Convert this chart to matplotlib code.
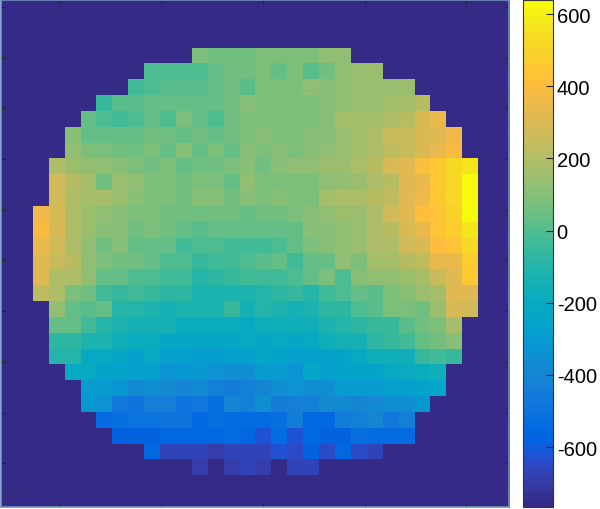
import numpy as np
import matplotlib
matplotlib.use('Agg')
import matplotlib.pyplot as plt
from matplotlib.colors import ListedColormap

plt.rcParams['font.family'] = ['Liberation Sans', 'DejaVu Sans']
plt.rcParams['axes.unicode_minus'] = False

# parula, 64 levels
parula = [
    [0.2081, 0.1663, 0.5292], [0.2116, 0.1898, 0.5777], [0.2123, 0.2138, 0.6270], [0.2081, 0.2386, 0.6771],
    [0.1959, 0.2645, 0.7279], [0.1707, 0.2919, 0.7792], [0.1253, 0.3242, 0.8303], [0.0591, 0.3598, 0.8683],
    [0.0117, 0.3875, 0.8820], [0.0060, 0.4086, 0.8828], [0.0165, 0.4266, 0.8786], [0.0329, 0.4430, 0.8720],
    [0.0498, 0.4586, 0.8641], [0.0629, 0.4737, 0.8554], [0.0723, 0.4887, 0.8467], [0.0779, 0.5040, 0.8384],
    [0.0793, 0.5200, 0.8312], [0.0749, 0.5375, 0.8263], [0.0641, 0.5570, 0.8240], [0.0488, 0.5772, 0.8228],
    [0.0343, 0.5966, 0.8199], [0.0265, 0.6137, 0.8135], [0.0239, 0.6287, 0.8038], [0.0231, 0.6418, 0.7913],
    [0.0228, 0.6535, 0.7768], [0.0267, 0.6642, 0.7607], [0.0384, 0.6743, 0.7436], [0.0590, 0.6838, 0.7254],
    [0.0843, 0.6928, 0.7062], [0.1133, 0.7015, 0.6859], [0.1453, 0.7098, 0.6646], [0.1801, 0.7177, 0.6424],
    [0.2178, 0.7250, 0.6193], [0.2586, 0.7317, 0.5954], [0.3022, 0.7376, 0.5712], [0.3482, 0.7424, 0.5473],
    [0.3953, 0.7459, 0.5244], [0.4420, 0.7481, 0.5033], [0.4871, 0.7491, 0.4840], [0.5300, 0.7491, 0.4661],
    [0.5709, 0.7485, 0.4494], [0.6099, 0.7473, 0.4337], [0.6473, 0.7456, 0.4188], [0.6834, 0.7435, 0.4044],
    [0.7184, 0.7411, 0.3905], [0.7525, 0.7384, 0.3768], [0.7858, 0.7356, 0.3633], [0.8185, 0.7327, 0.3498],
    [0.8507, 0.7299, 0.3360], [0.8824, 0.7274, 0.3217], [0.9139, 0.7258, 0.3063], [0.9450, 0.7261, 0.2886],
    [0.9739, 0.7314, 0.2666], [0.9938, 0.7455, 0.2403], [0.9990, 0.7653, 0.2164], [0.9955, 0.7861, 0.1967],
    [0.9880, 0.8066, 0.1794], [0.9789, 0.8271, 0.1633], [0.9697, 0.8481, 0.1475], [0.9626, 0.8705, 0.1309],
    [0.9589, 0.8949, 0.1132], [0.9598, 0.9218, 0.0948], [0.9661, 0.9514, 0.0755], [0.9763, 0.9831, 0.0538],
]

# map values, row by row from the top, and the column each row starts at
first_row = 3
first_col = [12, 9, 8, 6, 5, 4, 4, 3, 3, 3, 2, 2, 2, 2, 2, 2, 3, 3, 3, 3, 4, 5, 5, 6, 7, 9, 12]
rows = [
    [70, 60, 60, 60, 90, 70, 85, 85, 120, 120],
    [-10, 0, 0, -5, 40, 60, 60, 70, 45, 80, 20, 60, 120, 135, 135],
    [-40, 0, 15, 15, 15, 40, 65, 10, 70, 85, 85, 120, 100, 125, 135, 145, 155, 155],
    [-50, 15, 15, 30, 25, 45, 45, 45, 60, 100, 80, 80, 80, 85, 95, 120, 145, 155, 165, 175, 200],
    [30, 0, -20, -5, 40, -10, 70, 40, 0, 60, 80, 80, 75, 70, 85, 95, 170, 165, 175, 195, 215, 290, 340],
    [100, 40, 40, 40, 40, 50, 50, 40, 60, 25, 60, 80, 100, 90, 90, 100, 110, 135, 175, 180, 245, 250, 290, 320, 355],
    [120, 90, 80, 65, 55, 80, 45, 100, 35, 85, 45, 95, 85, 95, 70, 100, 130, 135, 175, 185, 235, 255, 305, 345, 390],
    [190, 140, 130, 115, 100, 90, 55, 90, 30, 65, 65, 80, 95, 55, 105, 120, 115, 135, 155, 190, 215, 295, 310, 410, 445, 510, 560],
    [270, 205, 160, 65, 135, 115, 90, 80, 55, 70, 85, 45, 125, 90, 75, 85, 85, 115, 120, 145, 185, 215, 320, 345, 460, 510, 640],
    [270, 195, 175, 165, 150, 110, 90, 75, 60, 100, 95, 65, 105, 75, 95, 90, 90, 170, 180, 190, 205, 235, 330, 355, 450, 520, 640],
    [370, 300, 185, 140, 120, 100, 75, 80, 60, 60, 60, 60, 60, 45, 60, 60, 70, 110, 115, 140, 145, 185, 270, 320, 410, 430, 500, 640],
    [380, 300, 190, 135, 100, 100, 65, 70, 50, 35, 10, 45, 45, 25, 35, 25, 45, 95, 105, 125, 135, 190, 215, 300, 340, 430, 470, 560],
    [340, 280, 190, 125, 60, 95, 45, 45, 25, -30, -5, -15, -30, -35, -30, -15, 30, 75, 95, 125, 150, 190, 190, 280, 300, 400, 430, 520],
    [330, 260, 220, 125, 70, 60, 60, 25, 0, -15, -60, -40, -35, -15, 15, 40, -20, 35, 40, 120, 90, 160, 170, 210, 240, 340, 350, 470],
    [310, 190, 185, 130, 40, 30, -5, -5, -20, -20, -90, -70, -50, -35, -40, -40, -5, 25, 70, -15, 110, 115, 130, 150, 170, 260, 330, 450],
    [240, 190, 70, 50, -20, -50, -25, -60, -80, -80, -110, -110, -115, -110, -100, -70, -50, -90, -20, -15, 25, 15, 80, 110, 150, 170, 310, 320],
    [125, 40, 20, 25, -90, -90, -110, -130, -115, -110, -110, -60, -150, -100, -120, -150, -110, -80, -70, -10, 5, 75, 80, 50, 140, 290, 280],
    [45, 35, -25, -90, -110, -135, -145, -140, -190, -195, -185, -175, -200, -165, -165, -165, -155, -110, -105, -80, -60, -50, 20, 60, 90, 160],
    [-65, -65, -110, -115, -160, -190, -185, -235, -225, -225, -220, -225, -215, -225, -215, -220, -205, -170, -150, -135, -70, -55, -25, 30, 60, 100],
    [-95, -95, -210, -205, -225, -280, -215, -265, -265, -300, -285, -270, -265, -235, -240, -270, -270, -245, -245, -210, -170, -160, -165, -50, -30, -45],
    [-200, -215, -240, -260, -280, -280, -330, -325, -310, -340, -365, -350, -300, -290, -345, -230, -270, -250, -240, -240, -205, -190, -180, -160],
    [-295, -285, -305, -375, -360, -385, -395, -390, -415, -455, -415, -400, -360, -335, -350, -350, -285, -300, -290, -275, -280, -250, -220],
    [-325, -340, -465, -490, -435, -435, -485, -475, -510, -400, -425, -350, -445, -430, -430, -375, -385, -400, -385, -370, -350, -320],
    [-525, -520, -500, -490, -500, -485, -560, -505, -530, -545, -535, -515, -440, -555, -555, -440, -425, -410, -475, -425],
    [-585, -590, -570, -560, -560, -560, -565, -545, -560, -615, -545, -615, -560, -580, -590, -515, -530, -540, -530],
    [-560, -665, -675, -660, -685, -660, -660, -675, -620, -640, -590, -640, -560, -650, -675],
    [-700, np.nan, -680, -670, -690, np.nan, -660, -660],
]
cbar_ticks = [-600, -400, -200, 0, 200, 400, 600]

grid = np.full((32, 32), np.nan)
for i, vals in enumerate(rows):
    c = first_col[i]
    grid[first_row + i, c:c + len(vals)] = vals

cmap = ListedColormap(parula)
cmap.set_bad(parula[0])

W, H = 600, 510
fig = plt.figure(figsize=(W / 100, H / 100), dpi=100)
ax = fig.add_axes([1 / W, 1 - 508 / H, 508 / W, 507 / H])
im = ax.imshow(grid, cmap=cmap, vmin=-766, vmax=639, extent=(0, 32, 32, 0),
               aspect='auto', interpolation='nearest')

ax.set_xticks(np.arange(3.7, 32, 6.4))
ax.set_yticks(np.arange(0.44, 32, 3.2))
ax.set_xticklabels([])
ax.set_yticklabels([])
ax.tick_params(direction='in', length=3, width=0.7, color='#222222',
               top=True, right=True)
for s in ax.spines.values():
    s.set_color('#6f93bd')
    s.set_linewidth(1.2)

cax = fig.add_axes([523 / W, 1 - 508 / H, 29.5 / W, 507 / H])
cb = fig.colorbar(im, cax=cax, ticks=cbar_ticks)
cb.ax.tick_params(direction='in', length=5, width=0.8, labelsize=14.5, pad=3, color='#222222')
cb.outline.set_edgecolor('#333333')
cb.outline.set_linewidth(0.8)

fig.savefig('out.png', dpi=100)
